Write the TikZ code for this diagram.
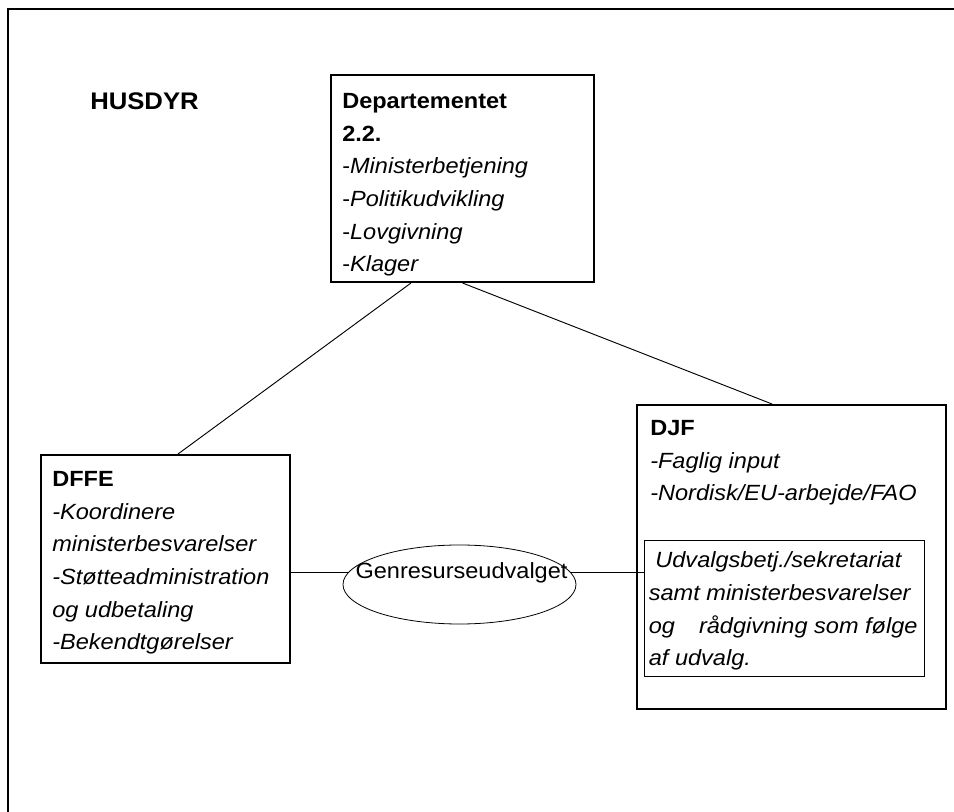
\documentclass[tikz,border=0pt]{standalone}
\usepackage{fontspec}
\setmainfont{Liberation Sans}[FakeStretch=1.07]
\usetikzlibrary{shapes.geometric,calc}

\tikzset{
  unitbox/.style={draw, rectangle, line width=1.5pt, inner sep=0pt},
  notebox/.style={draw, rectangle, line width=0.6pt, inner sep=0pt},
  listtext/.style={anchor=north west, inner sep=0pt, align=left},
  link/.style={line width=0.7pt},
}

\begin{document}
\begin{tikzpicture}[x=0.75pt,y=0.75pt,yscale=-1,xscale=1,font=\fontsize{16.5}{24.5}\selectfont]
        \useasboundingbox (0,0) rectangle (954,812);
        
        %Shape: Frame
        \draw[line width=1.2pt] (954,9) -- (8,9) -- (8,812);
        
        % Text Node
        \node (title) [anchor=west, inner sep=0pt, font=\fontsize{18}{24}\selectfont] at (90,101) {\textbf{HUSDYR}};
        
        %Shape: Rectangle
        \node (dep) [unitbox, minimum width=197.25pt, minimum height=155.25pt] at (462.5,178.5) {};
        %Shape: Rectangle
        \node (dffe) [unitbox, minimum width=186.75pt, minimum height=156pt] at (165.5,559) {};
        %Shape: Rectangle
        \node (djf) [unitbox, minimum width=231.75pt, minimum height=228pt] at (791.5,557) {};
        %Shape: Rectangle
        \node (udv) [notebox, minimum width=210pt, minimum height=102pt] at (784,608) {};
        %Shape: Ellipse
        \node (gru) [draw, ellipse, line width=0.6pt, minimum width=174.75pt, minimum height=59.25pt, inner sep=0pt] at (459.5,584.5) {};
        
        % Text Node
        \node (deptext) [listtext] at ($(dep.north west)+(12,19)$) {\textbf{Departementet}\\ \textbf{2.2.}\\ -\textit{Ministerbetjening}\\ -\textit{Politikudvikling}\\ -\textit{Lovgivning}\\ -\textit{Klager}};
        % Text Node
        \node (dffetext) [listtext] at ($(dffe.north west)+(12,17)$) {\textbf{DFFE}\\ \textit{-Koordinere}\\ \textit{ministerbesvarelser}\\ \textit{-Støtteadministration}\\ \textit{og udbetaling}\\ \textit{-Bekendtgørelser}};
        % Text Node
        \node (djftext) [listtext] at ($(djf.north west)+(14,16)$) {\textbf{DJF}\\ \textit{-Faglig input}\\ \textit{-Nordisk/EU-arbejde/FAO}};
        % Text Node
        \node (udvtext) [listtext] at ($(udv.north west)+(5,12)$) {\textit{\ Udvalgsbetj./sekretariat}\\ \textit{samt ministerbesvarelser}\\ \textit{og\hspace{18pt}rådgivning som følge}\\ \textit{af udvalg.}};
        % Text Node
        \node (grutext) [inner sep=0pt] at ($(gru.center)+(2,-12)$) {Genresurseudvalget};
        
        % Connectors
        \draw[link] ($(dep.south)+(-51.5,0)$) -- ($(dffe.north)+(12.5,0)$);
        \draw[link] (dep.south) -- ($(djf.north)+(-19.5,0)$);
        \draw[link] (dffe.east |- gru.174) -- (gru.174);
        \draw[link] (gru.6) -- (udv.west |- gru.6);
        
\end{tikzpicture}
\end{document}
